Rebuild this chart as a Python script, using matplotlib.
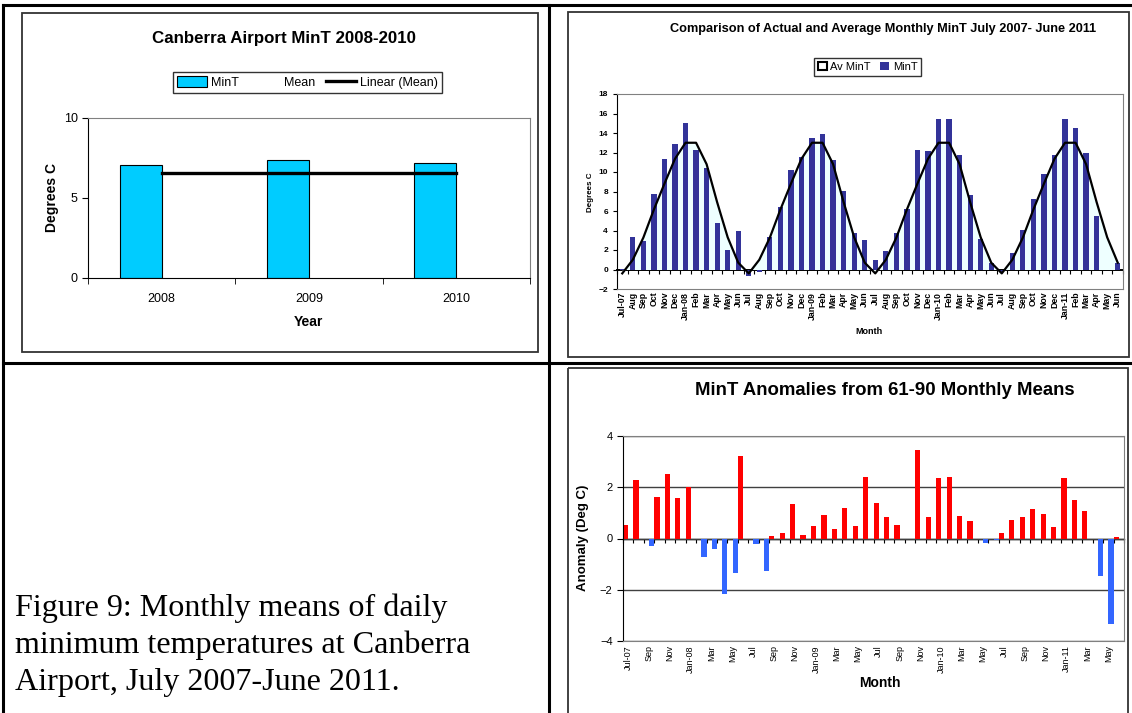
import numpy as np
import matplotlib
matplotlib.use('Agg')
import matplotlib.pyplot as plt
from matplotlib.patches import Patch, Rectangle

W, H = 1132, 713

# yearly summary
years = ['2008', '2009', '2010']
year_min_t = [7.06, 7.37, 7.2]
year_mean = [6.56, 6.56, 6.56]

# monthly series, Jul 2007 - Jun 2011
months = ['Jul-07', 'Aug', 'Sep', 'Oct', 'Nov', 'Dec', 'Jan-08', 'Feb', 'Mar', 'Apr', 'May', 'Jun',
          'Jul', 'Aug', 'Sep', 'Oct', 'Nov', 'Dec', 'Jan-09', 'Feb', 'Mar', 'Apr', 'May', 'Jun',
          'Jul', 'Aug', 'Sep', 'Oct', 'Nov', 'Dec', 'Jan-10', 'Feb', 'Mar', 'Apr', 'May', 'Jun',
          'Jul', 'Aug', 'Sep', 'Oct', 'Nov', 'Dec', 'Jan-11', 'Feb', 'Mar', 'Apr', 'May', 'Jun']
month_min_t = [0.1, 3.34, 2.97, 7.75, 11.33, 12.9, 15.0, 12.3, 10.4, 4.74, 2.0, 3.9,
               -0.7, -0.27, 3.34, 6.4, 10.2, 11.5, 13.5, 13.9, 11.2, 8.1, 3.75, 3.07,
               1.0, 1.9, 3.75, 6.2, 12.25, 12.2, 15.4, 15.4, 11.7, 7.6, 3.17, 0.68,
               -0.27, 1.74, 4.06, 7.27, 9.76, 11.7, 15.4, 14.5, 11.9, 5.5, 0.0, 0.7]
# long-term average, Jul..Jun
clim_min_t = [-0.4, 1.0, 3.27, 6.15, 8.8, 11.35, 13.0, 13.0, 10.8, 6.9, 3.3, 0.7]
anomaly = [0.53, 2.3, -0.31, 1.63, 2.52, 1.57, 2.0, -0.74, -0.42, -2.17, -1.33, 3.22,
           -0.21, -1.27, 0.09, 0.22, 1.36, 0.13, 0.47, 0.9, 0.37, 1.2, 0.47, 2.39,
           1.38, 0.84, 0.52, 0.0, 3.46, 0.84, 2.36, 2.39, 0.86, 0.69, -0.16, -0.06,
           0.2, 0.73, 0.85, 1.14, 0.97, 0.44, 2.36, 1.5, 1.07, -1.45, -3.32, 0.07]

plt.rcParams['font.family'] = ['Liberation Sans', 'DejaVu Sans']

fig = plt.figure(figsize=(W / 100, H / 100), dpi=100)


def box(x0, y0, x1, y1):
    return [x0 / W, 1 - y1 / H, (x1 - x0) / W, (y1 - y0) / H]


def ftext(x, y, s, **kw):
    kw.setdefault('ha', 'center')
    kw.setdefault('va', 'center')
    fig.text(x / W, 1 - y / H, s, **kw)


# page table and chart frames
ov = fig.add_axes([0, 0, 1, 1], zorder=-1)
ov.set_xlim(0, W)
ov.set_ylim(H, 0)
ov.axis('off')
for xs, ys in [([3, W], [5, 5]), ([3, W], [363, 363]), ([3, 3], [5, H]), ([549, 549], [5, H])]:
    ov.plot(xs, ys, color='black', lw=2.2, solid_capstyle='projecting')
for x0, y0, x1, y1 in [(22, 13, 538, 352), (568, 12, 1129, 357), (568, 368, 1128, 730)]:
    ov.add_patch(Rectangle((x0, y0), x1 - x0, y1 - y0, fill=False, edgecolor='#333333', lw=1.3))

caption = ['Figure 9: Monthly means of daily', 'minimum temperatures at Canberra',
           'Airport, July 2007-June 2011.']
for i, line in enumerate(caption):
    ov.text(15, 616 + 37 * i, line, family='Liberation Serif', fontsize=23.1, va='baseline')


def frame_spines(ax):
    for side in ['top', 'right', 'bottom']:
        ax.spines[side].set_color('#808080')
    ax.spines['left'].set_color('black')


# --- yearly bars ---
ax1 = fig.add_axes(box(88, 118, 530, 278))
xy = np.arange(len(years))
w = 0.286
b_min = ax1.bar(xy - w / 2, year_min_t, w, color='#00CCFF', edgecolor='black', lw=0.8, label='MinT')
b_mean = ax1.bar(xy + w / 2, year_mean, w, color='none', edgecolor='none', label='Mean')
fit = np.polyfit(xy, year_mean, 1)
trend, = ax1.plot(xy, np.polyval(fit, xy), color='black', lw=2.4, label='Linear (Mean)')
ax1.set_xlim(-0.5, 2.5)
ax1.set_ylim(0, 10)
ax1.set_yticks([0, 5, 10])
ax1.set_xticks(xy, years)
ax1.set_xticks(np.arange(-0.5, 3), minor=True)
ax1.tick_params(axis='x', which='major', length=0, pad=11, labelsize=9)
ax1.tick_params(axis='x', which='minor', length=4)
ax1.tick_params(axis='y', length=4, labelsize=9)
frame_spines(ax1)
ax1.spines['bottom'].set_color('black')
ftext(284, 38, 'Canberra Airport MinT 2008-2010', fontsize=12.2, weight='bold')
ftext(308, 322, 'Year', fontsize=10, weight='bold')
ftext(52, 198, 'Degrees C', fontsize=10, weight='bold', rotation=90)
leg = fig.legend([b_min, b_mean, trend], ['MinT', 'Mean', 'Linear (Mean)'], loc='center',
                 bbox_to_anchor=(307.5 / W, 1 - 82.5 / H), ncol=3,
                 fancybox=False, edgecolor='black', fontsize=9, handlelength=2.4, handleheight=0.9,
                 columnspacing=0.9, handletextpad=0.3, borderpad=0.35)
leg.get_frame().set_linewidth(1.0)

# --- actual vs average monthly ---
ax2 = fig.add_axes(box(617, 94, 1123, 289))
xm = np.arange(len(months))
av_min_t = np.tile(clim_min_t, 4)
ax2.fill_between(xm, av_min_t, 0, color='#EEFFFF', lw=0, zorder=1)
ax2.bar(xm, month_min_t, 0.5, color='#333399', zorder=2)
ax2.plot(xm, av_min_t, color='black', lw=1.6, zorder=3)
ax2.set_xlim(-0.5, len(months) - 0.5)
ax2.set_ylim(-2, 18)
ax2.set_yticks(range(-2, 19, 2))
ax2.set_xticks(xm, months, rotation=90)
ax2.tick_params(axis='x', length=0, pad=2, labelsize=6.3)
ax2.tick_params(axis='y', length=3, labelsize=6)
for t in ax2.get_xticklabels() + ax2.get_yticklabels():
    t.set_fontweight('bold')
frame_spines(ax2)
zero2 = ax2.secondary_xaxis(2 / 20)
zero2.set_xticks(np.arange(-0.5, len(months)))
zero2.tick_params(length=3, width=0.8, labelbottom=False, labeltop=False)
zero2.spines['bottom'].set_linewidth(1.4)
ftext(883, 29, 'Comparison of Actual and Average Monthly MinT July 2007- June 2011', fontsize=9.2, weight='bold')
ftext(869, 332, 'Month', fontsize=6.5, weight='bold')
ftext(590, 192, 'Degrees C', fontsize=5.8, weight='bold', rotation=90)
leg2 = fig.legend([Patch(facecolor='white', edgecolor='black', lw=1.5), Patch(facecolor='#333399')],
                  ['Av MinT', 'MinT'], loc='center', bbox_to_anchor=(867.5 / W, 1 - 67 / H), ncol=2,
                  fancybox=False, edgecolor='black', fontsize=8, handlelength=0.8, handleheight=0.8,
                  columnspacing=0.9, handletextpad=0.3, borderpad=0.35)
leg2.get_frame().set_linewidth(1.0)

# --- anomalies ---
ax3 = fig.add_axes(box(623, 436, 1124, 641))
anom = np.array(anomaly)
ax3.bar(xm - 0.25, np.where(anom > 0, anom, 0), 0.5, color='#FF0000', zorder=2)
ax3.bar(xm + 0.25, np.where(anom < 0, anom, 0), 0.5, color='#3366FF', zorder=2)
ax3.set_xlim(-0.5, len(months) - 0.5)
ax3.set_ylim(-4, 4)
ax3.set_yticks(range(-4, 5, 2))
ax3.yaxis.grid(True, color='#404040', lw=1)
ax3.set_axisbelow(True)
ax3.set_xticks(xm[::2], months[::2], rotation=90)
ax3.tick_params(axis='x', length=0, pad=3, labelsize=6.5)
ax3.tick_params(axis='y', length=4, labelsize=8)
frame_spines(ax3)
zero3 = ax3.secondary_xaxis(0.4999)
zero3.set_xticks(np.arange(-0.5, len(months)))
zero3.tick_params(length=3, width=0.8, labelbottom=False, labeltop=False)
zero3.spines['bottom'].set_linewidth(1.0)
ftext(885, 390, 'MinT Anomalies from 61-90 Monthly Means', fontsize=13.4, weight='bold')
ftext(880, 683, 'Month', fontsize=10, weight='bold')
ftext(583, 538, 'Anomaly (Deg C)', fontsize=9.5, weight='bold', rotation=90)

fig.savefig('out.png', dpi=100)
